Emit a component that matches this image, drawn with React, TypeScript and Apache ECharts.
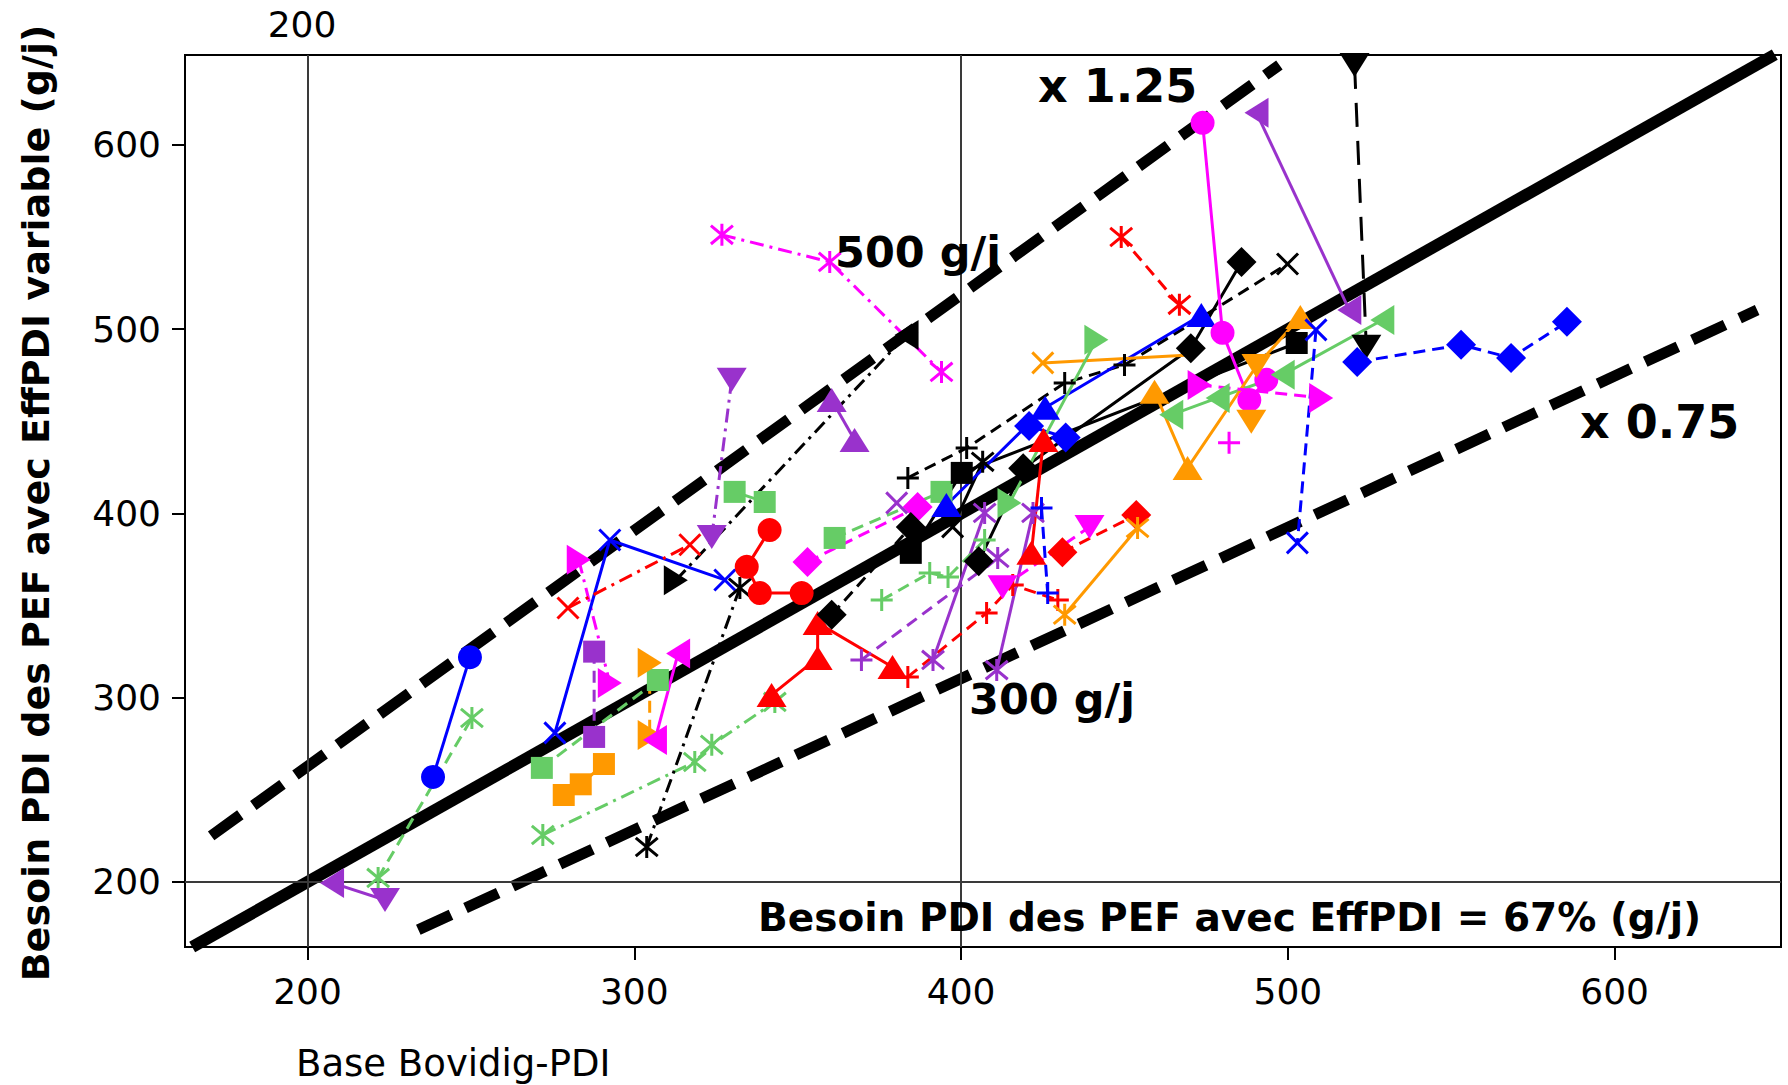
import React, { useEffect, useRef } from "react";
import * as echarts from "echarts";

// ---------- axis ----------
const xTicks = [200, 300, 400, 500, 600];
const yTicks = [200, 300, 400, 500, 600];
const xRange = [162.5, 650.9];
const yRange = [164.7, 648.8];
const guideX = [200, 400];
const guideY = [200];

// ---------- reference lines ----------
const unityLine = [[164.7, 164.7], [649, 649]];
const upperLine = [[170.5, 225], [497.4, 643.4]];
const lowerLine = [[233.9, 174], [643.6, 510.4]];

// ---------- data series ----------
const blueCircles = [[238.4, 257], [249.7, 322]];
const greenStarsA = [[221.6, 202.2], [250.3, 289]];
const purpleTris = [[207.5, 199.5], [223.7, 190.2]];
const greenStarsB = [[272, 225.5], [318.5, 265.1], [323.7, 274.4], [343, 297.7]];
const greenSquaresA = [[271.7, 261.9], [307.2, 309.6]];
const greenSquaresB = [[330.7, 411.7], [339.9, 406.2]];
const greenSquaresC = [[361.3, 386.7], [394, 411.7]];
const orangeSquares = [[278.4, 247.2], [283.6, 253], [290.7, 264]];
const purpleSquares = [[287.7, 325], [287.7, 278.7]];
const orangeRights = [[304.7, 318.9], [304.7, 279.8]];
const magentaRights = [[283, 374.8], [292.5, 308]];
const magentaLefts = [[313.4, 324], [306.3, 277]];
const blueCrossesA = [[275.7, 280.9], [292.5, 385.6], [327.7, 363.9]];
const redCrosses = [[279.7, 348.7], [317, 383]];
const blackStarsA = [[303.8, 219], [332.3, 359.6]];
const blackTris = [[312.7, 363.7], [383.3, 496.9]];
const purpleDowns = [[329.8, 472.5], [323.7, 387.2]];
const purpleUps = [[360.4, 461.6], [367.4, 439.9]];
const magentaStars = [[326.8, 551.2], [359.8, 536.5], [394, 476.8]];
const redCircles = [[341.4, 391], [334.4, 371], [338.4, 356.8], [351.2, 356.8]];
const magentaDiamonds = [[353, 373.7], [386.7, 403.5]];
const redUpsA = [[379, 316.7], [356.1, 340.6], [356.1, 321.6], [342, 301.5]];
const redPluses = [[383.7, 311.3], [407.8, 346], [415.8, 361.2], [429.6, 353]];
const purplePlusDash = [[369.5, 320.5], [411.2, 375.8]];
const purpleStarsA = [[391.4, 320.5], [407.2, 400.3]];
const purpleStarsB = [[410.9, 315], [422, 400.3]];
const purpleCross = [[380.3, 405.7]];
const greenPluses = [[375.7, 353], [390.4, 367.7], [396, 365.5], [407.2, 385.6]];
const blackSquares = [[384.6, 378.6], [400.2, 422], [502.7, 492.5]];
const blackDiamondsA = [[360.4, 345], [384.6, 392.7]];
const blackDiamondsB = [[405.4, 374], [419, 424.5], [470.3, 489.6], [485.8, 536.5]];
const blackPluses = [[383.7, 419.3], [401.7, 435.5], [431.7, 470.8], [450, 480.6], [499.9, 535.4]];
const blackStarsB = [[397.4, 392.7], [406.6, 428]];
const blueUps = [[395.5, 404.6], [425.7, 457.4], [473.5, 507.7]];
const blueDiamondsA = [[420.8, 447.4], [432, 441.2]];
const bluePluses = [[424.6, 403], [426.5, 356.8]];
const redUpsB = [[421.5, 378.6], [425.2, 439.9]];
const redDiamonds = [[431, 379], [453.6, 399.2]];
const magentaDowns = [[412.7, 360], [439.3, 392.7]];
const orangeStars = [[431.7, 345], [454, 392.1]];
const orangeCrosses = [[425, 481.7], [470, 486]];
const greenRights = [[414.8, 405.7], [441.4, 494.2]];
const redStars = [[449, 550], [466.8, 513.2]];
const magentaCircles = [[473.9, 612], [480, 498], [488.2, 461.6], [493.4, 472.5]];
const purpleLefts = [[490.4, 617.4], [518.8, 510.4]];
const blackDowns = [[520.4, 643.4], [524, 490.4]];
const greenLefts = [[464.3, 453.5], [478.5, 462.7], [498.4, 475.2], [528.9, 505]];
const orangeTris = [[459.2, 466], [469.3, 424.7], [490.4, 480], [503.8, 506.6]];
const orangeDowns = [[488.8, 449.7]];
const magentaRightsB = [[473, 469.7], [510.2, 462.7]];
const magentaPlus = [[482, 438.3]];
const blueCrossesB = [[508.6, 499.6], [502.9, 384]];
const blueDiamondsB = [[521.2, 482.2], [553, 491.5], [568.3, 484.4], [585.4, 504]];

// ---------- styles ----------
const COL: Record<string, string> = {
  blue: "#0000FF",
  red: "#FF0000",
  magenta: "#FF00FF",
  purple: "#9932CC",
  green: "#66CC66",
  orange: "#FF9900",
  black: "#000000",
};

const SYM: Record<string, string> = {
  circle: "circle",
  square: "rect",
  diamond: "diamond",
  up: "triangle",
  down: "path://M0,0L10,0L5,8Z",
  left: "path://M0,5L8,0L8,10Z",
  right: "path://M8,5L0,0L0,10Z",
  cross: "path://M0,0L10,10M10,0L0,10",
  plus: "path://M5,0L5,10M0,5L10,5",
  star: "path://M0,0L10,10M10,0L0,10M5,-1L5,11",
  none: "none",
};
const SIZE: Record<string, any> = {
  circle: 24,
  square: 22,
  diamond: 30,
  up: [30, 24],
  down: [30, 24],
  left: [24, 30],
  right: [24, 30],
  cross: 21,
  plus: 22,
  star: 22,
  none: 1,
};
const STROKED = new Set(["cross", "plus", "star"]);
const DASH: Record<string, any> = {
  solid: "solid",
  dashed: [12, 7],
  dashdot: [14, 6, 3, 6],
  longdash: [24, 14],
};

type Spec = [number[][], string, string[], string];
const specs: Spec[] = [
  [blueCircles, "blue", ["circle"], "solid"],
  [greenStarsA, "green", ["star"], "dashed"],
  [purpleTris, "purple", ["left", "down"], "solid"],
  [greenStarsB, "green", ["star"], "dashdot"],
  [greenSquaresA, "green", ["square"], "dashed"],
  [greenSquaresB, "green", ["square"], "solid"],
  [greenSquaresC, "green", ["square"], "dashed"],
  [orangeSquares, "orange", ["square"], "solid"],
  [purpleSquares, "purple", ["square"], "dashed"],
  [orangeRights, "orange", ["right"], "dashed"],
  [magentaRights, "magenta", ["right"], "dashdot"],
  [magentaLefts, "magenta", ["left"], "solid"],
  [blueCrossesA, "blue", ["cross"], "solid"],
  [redCrosses, "red", ["cross"], "dashdot"],
  [blackStarsA, "black", ["star"], "dashdot"],
  [blackTris, "black", ["right", "left"], "dashdot"],
  [purpleDowns, "purple", ["down"], "dashdot"],
  [purpleUps, "purple", ["up"], "solid"],
  [magentaStars, "magenta", ["star"], "dashdot"],
  [redCircles, "red", ["circle"], "solid"],
  [magentaDiamonds, "magenta", ["diamond"], "dashed"],
  [redUpsA, "red", ["up"], "solid"],
  [redPluses, "red", ["plus"], "dashed"],
  [purplePlusDash, "purple", ["plus", "star"], "dashed"],
  [purpleStarsA, "purple", ["star"], "solid"],
  [purpleStarsB, "purple", ["star"], "solid"],
  [purpleCross, "purple", ["cross"], "solid"],
  [greenPluses, "green", ["plus"], "dashed"],
  [blackSquares, "black", ["square"], "solid"],
  [blackDiamondsA, "black", ["diamond"], "dashed"],
  [blackDiamondsB, "black", ["diamond"], "solid"],
  [blackPluses, "black", ["plus", "plus", "plus", "plus", "cross"], "dashed"],
  [blackStarsB, "black", ["cross", "star"], "solid"],
  [blueUps, "blue", ["up"], "solid"],
  [blueDiamondsA, "blue", ["diamond"], "solid"],
  [bluePluses, "blue", ["plus"], "dashed"],
  [redUpsB, "red", ["up"], "solid"],
  [redDiamonds, "red", ["diamond"], "dashed"],
  [magentaDowns, "magenta", ["down"], "dashed"],
  [orangeStars, "orange", ["star"], "solid"],
  [orangeCrosses, "orange", ["cross", "none"], "solid"],
  [greenRights, "green", ["right"], "solid"],
  [redStars, "red", ["star"], "dashed"],
  [magentaCircles, "magenta", ["circle"], "solid"],
  [purpleLefts, "purple", ["left"], "solid"],
  [blackDowns, "black", ["down"], "longdash"],
  [greenLefts, "green", ["left"], "solid"],
  [orangeTris, "orange", ["up", "up", "down", "up"], "solid"],
  [orangeDowns, "orange", ["down"], "solid"],
  [magentaRightsB, "magenta", ["right"], "dashed"],
  [magentaPlus, "magenta", ["plus"], "solid"],
  [blueCrossesB, "blue", ["cross"], "dashed"],
  [blueDiamondsB, "blue", ["diamond"], "dashed"],
];

const FONT = "DejaVu Sans";

function buildSeries(): any[] {
  const refLine = (data: number[][], dash: any, width: number, extra: any = {}) => ({
    type: "line",
    data,
    symbol: "none",
    silent: true,
    z: 3,
    lineStyle: { color: "#000", width, type: dash, cap: "butt" },
    ...extra,
  });
  const out: any[] = [
    refLine(unityLine, "solid", 12, {
      markLine: {
        silent: true,
        symbol: "none",
        label: { show: false },
        lineStyle: { color: "#3a3a3a", width: 2, type: "solid" },
        data: [...guideX.map((v) => ({ xAxis: v })), ...guideY.map((v) => ({ yAxis: v }))],
      },
    }),
    refLine(upperLine, [36, 16], 11),
    refLine(lowerLine, [36, 16], 11),
  ];
  specs.forEach(([pts, color, syms, dash]) => {
    const c = COL[color];
    out.push({
      type: "line",
      z: 5,
      lineStyle: { color: c, width: 3, type: DASH[dash] },
      data: pts.map((p, i) => {
        const s = syms[Math.min(i, syms.length - 1)];
        const stroked = STROKED.has(s);
        return {
          value: p,
          symbol: SYM[s],
          symbolSize: SIZE[s],
          itemStyle: stroked
            ? { color: c, borderColor: c, borderWidth: 3 }
            : { color: c, borderColor: c, borderWidth: 0 },
        };
      }),
    });
  });
  return out;
}

function txt(text: string, x: number, y: number, size: number, bold: boolean, align = "left", rotation = 0) {
  return {
    type: "text",
    x,
    y,
    rotation,
    z: 100,
    silent: true,
    style: {
      text,
      fill: "#000",
      fontSize: size,
      fontWeight: bold ? "bold" : "normal",
      fontFamily: FONT,
      textAlign: align,
      align,
      textVerticalAlign: "middle",
      verticalAlign: "middle",
    },
  };
}

export default function App() {
  const ref = useRef<HTMLDivElement>(null);
  useEffect(() => {
    if (!ref.current) return;
    const chart = echarts.init(ref.current, null, { renderer: "svg" });
    const axisCommon = {
      type: "value",
      axisLine: { show: true, lineStyle: { color: "#000", width: 2 } },
      splitLine: { show: false },
    };
    chart.setOption({
      animation: false,
      backgroundColor: "#ffffff",
      textStyle: { fontFamily: FONT },
      grid: { left: 185, right: 7, top: 55, bottom: 138, show: true, borderColor: "#000", borderWidth: 2, backgroundColor: "transparent" },
      xAxis: {
        ...axisCommon,
        min: xRange[0],
        max: xRange[1],
        axisTick: { show: true, length: 13, lineStyle: { color: "#000", width: 2 }, customValues: xTicks },
        axisLabel: { customValues: xTicks, fontSize: 36, color: "#000", margin: 26, fontFamily: FONT },
      },
      yAxis: {
        ...axisCommon,
        min: yRange[0],
        max: yRange[1],
        axisTick: { show: true, length: 13, lineStyle: { color: "#000", width: 2 }, customValues: yTicks },
        axisLabel: { customValues: yTicks, fontSize: 36, color: "#000", margin: 24, fontFamily: FONT },
      },
      graphic: [
        txt("200", 302, 24, 36, false, "center"),
        txt("x 1.25", 1038, 86, 46, true),
        txt("500 g/j", 835, 252, 43, true),
        txt("300 g/j", 969, 699, 43, true),
        txt("x 0.75", 1580, 422, 46, true),
        txt("Besoin PDI des PEF avec EffPDI = 67% (g/j)", 758, 917, 39, true),
        txt("Base Bovidig-PDI", 296, 1063, 37, false),
        txt("Besoin PDI des PEF avec EffPDI variable (g/j)", 36, 503, 38, true, "center", Math.PI / 2),
      ],
      series: buildSeries(),
    });
    return () => chart.dispose();
  }, []);
  return (
    <div
      ref={ref}
      style={{ position: "fixed", left: 0, top: 0, width: 1788, height: 1085, background: "#fff" }}
    />
  );
}
